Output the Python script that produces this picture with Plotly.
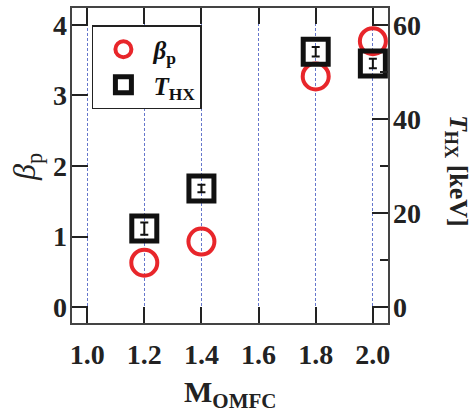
import plotly.graph_objects as go

m_omfc = [1.2, 1.4, 1.8, 2.0]
beta_p = [0.63, 0.93, 3.27, 3.77]
t_hx = [16.7, 25.2, 54.3, 51.8]
t_hx_err = [1.3, 0.8, 1.0, 1.0]

x_ticks = [1.0, 1.2, 1.4, 1.6, 1.8, 2.0]
x_ticklabels = ["1.0", "1.2", "1.4", "1.6", "1.8", "2.0"]
beta_ticks = [0, 1, 2, 3, 4]
thx_ticks = [0, 20, 40, 60]

FONT = "Liberation Serif"
tickfont = dict(family=FONT, size=28, color="#222", weight="bold")
BETA_RANGE = [-0.225, 4.24]

fig = go.Figure()
fig.add_trace(go.Scatter(
    x=m_omfc, y=beta_p, mode="markers", name="<i>β</i><sub>p</sub>",
    marker=dict(symbol="circle-open", size=26, color="#e8262b", line=dict(width=4, color="#e8262b")),
))
fig.add_trace(go.Scatter(
    x=m_omfc, y=t_hx, mode="markers", name="<i>T</i><sub>HX</sub>", yaxis="y2",
    marker=dict(symbol="square-open", size=25, color="#111", line=dict(width=5, color="#111")),
    error_y=dict(type="data", array=t_hx_err, color="#111", thickness=2, width=4),
))
# carrier for the left tick-label axis (no visible marks)
fig.add_trace(go.Scatter(x=[m_omfc[0]], y=[beta_p[0]], yaxis="y3", mode="markers",
                         marker=dict(opacity=0), showlegend=False, hoverinfo="skip"))

fig.update_layout(
    width=475, height=417,
    margin=dict(l=72, r=87, t=6, b=94),
    plot_bgcolor="white", paper_bgcolor="white",
    showlegend=True,
    legend=dict(x=0.063, y=0.946, xanchor="left", yanchor="top",
                bordercolor="#222", borderwidth=1.5, bgcolor="white",
                font=dict(family=FONT, size=25, color="#111", weight="bold"),
                itemsizing="trace", itemwidth=50, tracegroupgap=0),
    xaxis=dict(range=[0.947, 2.053], tickvals=x_ticks, ticktext=x_ticklabels,
               ticks="inside", ticklen=16, tickwidth=1.5, tickcolor="#222",
               showline=True, linecolor="#444", linewidth=2, mirror="ticks",
               showgrid=True, gridcolor="#6677cc", gridwidth=1, griddash="3px,2px",
               zeroline=False, tickfont=tickfont, ticklabelstandoff=5),
    yaxis=dict(range=BETA_RANGE, tickvals=beta_ticks, showticklabels=False,
               ticks="inside", ticklen=16, tickwidth=1.5, tickcolor="#222",
               showline=True, linecolor="#444", linewidth=2, mirror=True,
               showgrid=False, zeroline=False),
    yaxis3=dict(range=BETA_RANGE, tickvals=beta_ticks, overlaying="y", side="left",
                anchor="free", position=0, ticks="", showline=False,
                showgrid=False, zeroline=False, tickfont=tickfont, ticklabelstandoff=5),
    yaxis2=dict(range=[-3.375, 63.6], tickvals=thx_ticks, overlaying="y", side="right",
                ticks="inside", ticklen=16, tickwidth=1.5, tickcolor="#222",
                minor=dict(tickvals=[10, 30, 50], ticks="inside", ticklen=8, tickwidth=1.5, tickcolor="#222"),
                showline=False, showgrid=False, zeroline=False, tickfont=tickfont, ticklabelstandoff=4),
    annotations=[
        dict(text="<i>β</i><sub>p</sub>", x=(27 - 72) / 316, y=(323 - 166) / 317, xref="paper", yref="paper",
             xanchor="center", yanchor="middle",
             textangle=-90, showarrow=False, font=dict(family=FONT, size=32, color="#222")),
        dict(text="<i>T</i><sub>HX</sub> [keV]", x=(457 - 72) / 316, y=(323 - 170) / 317, xref="paper", yref="paper",
             xanchor="center", yanchor="middle",
             textangle=90, showarrow=False, font=dict(family=FONT, size=26, color="#222", weight="bold")),
        dict(text="M<sub>OMFC</sub>", x=0.5, y=-0.225, xref="paper", yref="paper",
             xanchor="center", yanchor="middle", showarrow=False,
             font=dict(family=FONT, size=30, color="#222", weight="bold")),
    ],
)

fig.write_html("out.html", config={"displayModeBar": False},
               post_script="document.body.style.margin='0px';")
